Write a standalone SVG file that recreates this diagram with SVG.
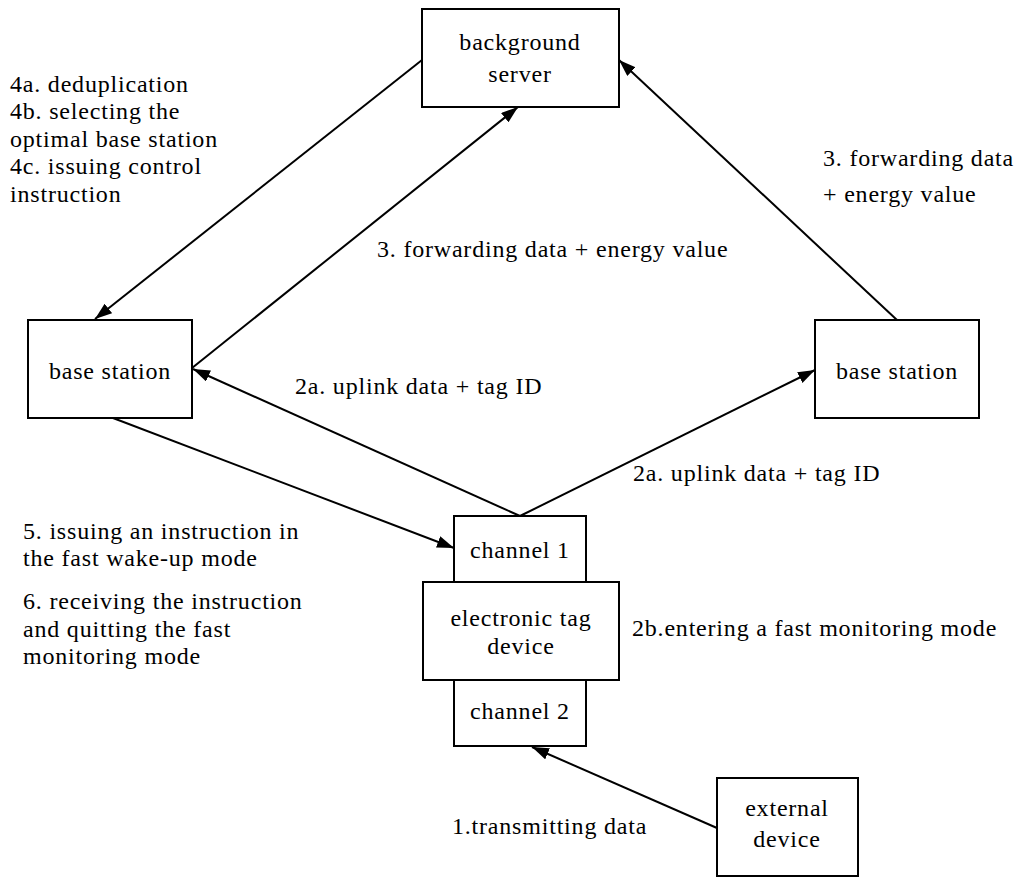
<svg xmlns="http://www.w3.org/2000/svg" width="1034" height="878" viewBox="0 0 1034 878">
<defs>
<style>
.box{fill:#fff;stroke:#000;stroke-width:2}
.t{font-family:'Liberation Serif','Times New Roman','DejaVu Serif',Times,serif;font-size:24px;letter-spacing:0.8px;fill:#000}
.c{text-anchor:middle}
.edge{stroke:#000;stroke-width:2;fill:none;marker-end:url(#ah)}
</style>
<marker id="ah" markerUnits="userSpaceOnUse" markerWidth="18" markerHeight="14" refX="17" refY="6" orient="auto">
<path d="M0,0 L17,6 L0,12 z" fill="#000"/>
</marker>
</defs>
<rect width="1034" height="878" fill="#fff"/>
<g id="connectors">
<line class="edge" x1="422" y1="60" x2="95" y2="319"/>
<line class="edge" x1="192" y1="368" x2="518" y2="107"/>
<line class="edge" x1="897" y1="320" x2="619" y2="60"/>
<line class="edge" x1="520" y1="516" x2="193" y2="369"/>
<line class="edge" x1="520" y1="516" x2="815" y2="370"/>
<line class="edge" x1="113" y1="418" x2="454" y2="548"/>
<line class="edge" x1="717" y1="828" x2="532" y2="747"/>
</g>
<g id="server">
<rect class="box" x="422" y="9" width="197" height="98"/>
<text class="t c" x="520" y="50">background</text>
<text class="t c" x="520" y="82">server</text>
</g>
<g id="bs-left">
<rect class="box" x="28" y="320" width="164" height="98"/>
<text class="t c" x="110" y="379">base station</text>
</g>
<g id="bs-right">
<rect class="box" x="815" y="320" width="164" height="98"/>
<text class="t c" x="897" y="379">base station</text>
</g>
<g id="channel1">
<rect class="box" x="454" y="516" width="132" height="66"/>
<text class="t c" x="520" y="558">channel 1</text>
</g>
<g id="tag">
<rect class="box" x="423" y="582" width="196" height="98"/>
<text class="t c" x="521" y="626">electronic tag</text>
<text class="t c" x="521" y="654">device</text>
</g>
<g id="channel2">
<rect class="box" x="454" y="680" width="132" height="66"/>
<text class="t c" x="520" y="719">channel 2</text>
</g>
<g id="external">
<rect class="box" x="717" y="778" width="141" height="98"/>
<text class="t c" x="787" y="816">external</text>
<text class="t c" x="787" y="847">device</text>
</g>
<g id="labels">
<text class="t" x="10" y="92">4a. deduplication</text>
<text class="t" x="10" y="119">4b. selecting the</text>
<text class="t" x="10" y="147">optimal base station</text>
<text class="t" x="10" y="174">4c. issuing control</text>
<text class="t" x="10" y="202">instruction</text>
<text class="t" x="377" y="257">3. forwarding data + energy value</text>
<text class="t" x="823" y="166">3. forwarding data</text>
<text class="t" x="823" y="202">+ energy value</text>
<text class="t" x="295" y="394">2a. uplink data + tag ID</text>
<text class="t" x="633" y="481">2a. uplink data + tag ID</text>
<text class="t" x="23" y="539">5. issuing an instruction in</text>
<text class="t" x="23" y="566">the fast wake-up mode</text>
<text class="t" x="23" y="609">6. receiving the instruction</text>
<text class="t" x="23" y="637">and quitting the fast</text>
<text class="t" x="23" y="664">monitoring mode</text>
<text class="t" x="632" y="636">2b.entering a fast monitoring mode</text>
<text class="t" x="452" y="834">1.transmitting data</text>
</g>
</svg>
